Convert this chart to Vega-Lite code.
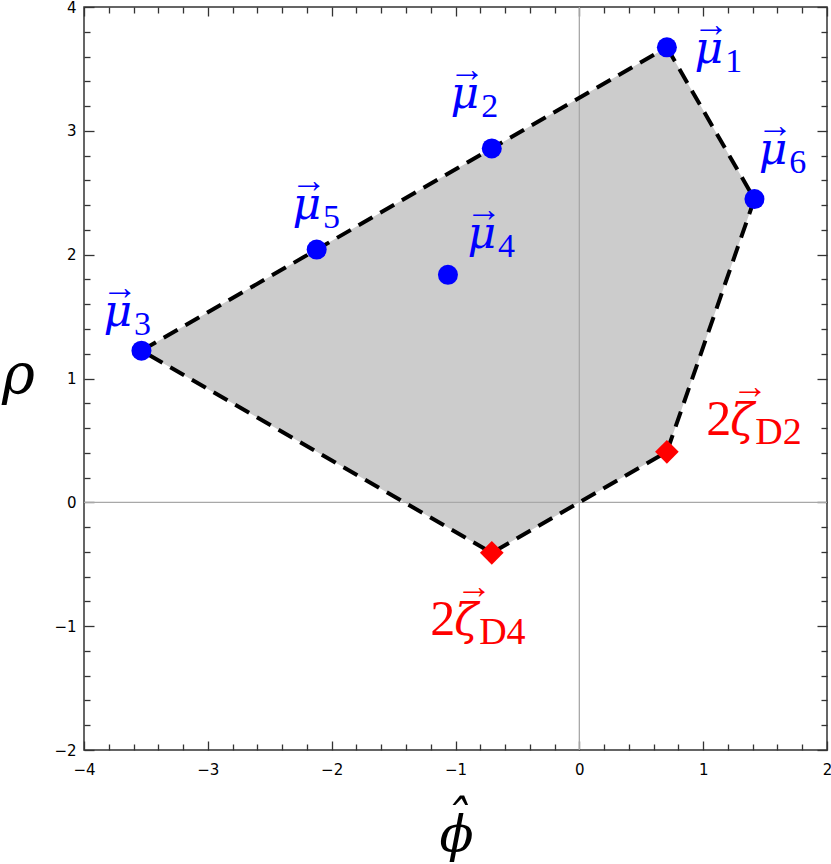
{
  "$schema": "https://vega.github.io/schema/vega-lite/v6.json",
  "width": 743,
  "height": 743,
  "autosize": {"type": "none"},
  "padding": {"left": 84, "top": 7, "right": 4, "bottom": 114},
  "background": "white",
  "config": {
    "view": {"stroke": "#333333", "strokeWidth": 1.5},
    "axis": {
      "grid": false, "domain": false, "tickColor": "#333333", "tickWidth": 1.3,
      "labelFont": "DejaVu Sans", "labelFontSize": 15, "labelColor": "#000000",
      "labelFlush": false, "labelOverlap": false, "labelBound": false
    }
  },
  "datasets": {
    "hull": [
      {"order": 1, "x": 0.707, "y": 3.674},
      {"order": 2, "x": 1.414, "y": 2.449},
      {"order": 3, "x": 0.707, "y": 0.408},
      {"order": 4, "x": -0.707, "y": -0.408},
      {"order": 5, "x": -3.536, "y": 1.225},
      {"order": 6, "x": -2.121, "y": 2.041},
      {"order": 7, "x": -0.707, "y": 2.858},
      {"order": 8, "x": 0.707, "y": 3.674}
    ],
    "points": [
      {"name": "mu1", "kind": "mu", "x": 0.707, "y": 3.674},
      {"name": "mu2", "kind": "mu", "x": -0.707, "y": 2.858},
      {"name": "mu3", "kind": "mu", "x": -3.536, "y": 1.225},
      {"name": "mu4", "kind": "mu", "x": -1.061, "y": 1.837},
      {"name": "mu5", "kind": "mu", "x": -2.121, "y": 2.041},
      {"name": "mu6", "kind": "mu", "x": 1.414, "y": 2.449},
      {"name": "zD2", "kind": "zeta", "x": 0.707, "y": 0.408},
      {"name": "zD4", "kind": "zeta", "x": -0.707, "y": -0.408}
    ],
    "labels": [
      {"kind": "mu", "pre": "", "main": "μ", "sub": "1", "x": 1.162, "y": 3.548},
      {"kind": "mu", "pre": "", "main": "μ", "sub": "2", "x": -0.809, "y": 3.184},
      {"kind": "mu", "pre": "", "main": "μ", "sub": "3", "x": -3.612, "y": 1.423},
      {"kind": "mu", "pre": "", "main": "μ", "sub": "4", "x": -0.672, "y": 2.053},
      {"kind": "mu", "pre": "", "main": "μ", "sub": "5", "x": -2.086, "y": 2.288},
      {"kind": "mu", "pre": "", "main": "μ", "sub": "6", "x": 1.679, "y": 2.732},
      {"kind": "zeta", "pre": "2", "main": "ζ", "sub": "D2", "x": 1.412, "y": 0.543},
      {"kind": "zeta", "pre": "2", "main": "ζ", "sub": "D4", "x": -0.817, "y": -1.073}
    ],
    "origin": [{"v": 0}]
  },
  "layer": [
    {
      "data": {"name": "hull"},
      "mark": {"type": "line", "fill": "#cccccc", "stroke": "#cccccc", "strokeWidth": 0, "strokeOpacity": 0},
      "encoding": {
        "x": {"field": "x", "type": "quantitative", "scale": {"domain": [-4, 2], "nice": false, "zero": false},
          "axis": {"orient": "bottom", "values": [-4, -3, -2, -1, 0, 1, 2], "ticks": false, "labelPadding": 12,
            "title": ["ˆ", "ϕ"], "titleFont": "DejaVu Serif", "titleFontStyle": "italic", "titleFontWeight": "normal",
            "titleFontSize": 50, "titleLineHeight": 15, "titleColor": "#000000", "titleX": 372, "titleY": 85, "titleAlign": "center", "titleBaseline": "alphabetic"}},
        "y": {"field": "y", "type": "quantitative", "scale": {"domain": [-2, 4], "nice": false, "zero": false},
          "axis": {"orient": "left", "values": [-2, -1, 0, 1, 2, 3, 4], "ticks": false, "labelPadding": 8,
            "title": "ρ", "titleFont": "DejaVu Serif", "titleFontStyle": "italic", "titleFontWeight": "normal",
            "titleFontSize": 56, "titleColor": "#000000", "titleAngle": 0, "titleX": -66, "titleY": 385, "titleAlign": "center", "titleBaseline": "alphabetic"}},
        "order": {"field": "order", "type": "quantitative"}
      }
    },
    {
      "data": {"name": "origin"},
      "mark": {"type": "rule", "color": "#a8a8a8", "strokeWidth": 1.3},
      "encoding": {
        "x": {"field": "v", "type": "quantitative", "scale": {"domain": [-4, 2], "nice": false, "zero": false}, "axis": null}
      }
    },
    {
      "data": {"name": "origin"},
      "mark": {"type": "rule", "color": "#a8a8a8", "strokeWidth": 1.3},
      "encoding": {
        "y": {"field": "v", "type": "quantitative", "scale": {"domain": [-2, 4], "nice": false, "zero": false}, "axis": null}
      }
    },
    {
      "data": {"name": "hull"},
      "mark": {"type": "line", "color": "#000000", "strokeWidth": 4, "strokeDash": [16, 9], "strokeCap": "butt"},
      "encoding": {
        "x": {"field": "x", "type": "quantitative", "scale": {"domain": [-4, 2], "nice": false, "zero": false},
          "axis": {"orient": "bottom", "values": [-4, -3, -2, -1, 0, 1, 2], "labels": false, "tickSize": -9, "title": null}},
        "y": {"field": "y", "type": "quantitative", "scale": {"domain": [-2, 4], "nice": false, "zero": false},
          "axis": {"orient": "left", "values": [-2, -1, 0, 1, 2, 3, 4], "labels": false, "tickSize": -10, "title": null}},
        "order": {"field": "order", "type": "quantitative"}
      }
    },
    {
      "data": {"name": "points"},
      "transform": [{"filter": "datum.kind == 'mu'"}],
      "mark": {"type": "circle", "color": "#0000ff", "size": 400, "opacity": 1},
      "encoding": {
        "x": {"field": "x", "type": "quantitative", "scale": {"domain": [-4, 2], "nice": false, "zero": false},
          "axis": {"orient": "bottom", "values": [-3.8, -3.6, -3.4, -3.2, -2.8, -2.6, -2.4, -2.2, -1.8, -1.6, -1.4, -1.2, -0.8, -0.6, -0.4, -0.2, 0.2, 0.4, 0.6, 0.8, 1.2, 1.4, 1.6, 1.8], "labels": false, "tickSize": -6, "title": null}},
        "y": {"field": "y", "type": "quantitative", "scale": {"domain": [-2, 4], "nice": false, "zero": false},
          "axis": {"orient": "left", "values": [-1.8, -1.6, -1.4, -1.2, -0.8, -0.6, -0.4, -0.2, 0.2, 0.4, 0.6, 0.8, 1.2, 1.4, 1.6, 1.8, 2.2, 2.4, 2.6, 2.8, 3.2, 3.4, 3.6, 3.8], "labels": false, "tickSize": -6, "title": null}}
      }
    },
    {
      "data": {"name": "points"},
      "transform": [{"filter": "datum.kind == 'zeta'"}],
      "mark": {"type": "point", "shape": "diamond", "filled": true, "color": "#ff0000", "size": 560, "opacity": 1},
      "encoding": {
        "x": {"field": "x", "type": "quantitative", "scale": {"domain": [-4, 2], "nice": false, "zero": false},
          "axis": {"orient": "top", "values": [-4, -3, -2, -1, 0, 1, 2], "labels": false, "tickSize": -9, "title": null}},
        "y": {"field": "y", "type": "quantitative", "scale": {"domain": [-2, 4], "nice": false, "zero": false},
          "axis": {"orient": "right", "values": [-2, -1, 0, 1, 2, 3, 4], "labels": false, "tickSize": -10, "title": null}}
      }
    },
    {
      "data": {"name": "labels"},
      "mark": {"type": "text", "font": "DejaVu Serif", "fontStyle": "italic", "fontSize": 44, "align": "right", "baseline": "alphabetic"},
      "encoding": {
        "x": {"field": "x", "type": "quantitative", "scale": {"domain": [-4, 2], "nice": false, "zero": false},
          "axis": {"orient": "top", "values": [-3.8, -3.6, -3.4, -3.2, -2.8, -2.6, -2.4, -2.2, -1.8, -1.6, -1.4, -1.2, -0.8, -0.6, -0.4, -0.2, 0.2, 0.4, 0.6, 0.8, 1.2, 1.4, 1.6, 1.8], "labels": false, "tickSize": -6, "title": null}},
        "y": {"field": "y", "type": "quantitative", "scale": {"domain": [-2, 4], "nice": false, "zero": false},
          "axis": {"orient": "right", "values": [-1.8, -1.6, -1.4, -1.2, -0.8, -0.6, -0.4, -0.2, 0.2, 0.4, 0.6, 0.8, 1.2, 1.4, 1.6, 1.8, 2.2, 2.4, 2.6, 2.8, 3.2, 3.4, 3.6, 3.8], "labels": false, "tickSize": -6, "title": null}},
        "text": {"field": "main"},
        "color": {"field": "kind", "type": "nominal", "scale": {"domain": ["mu", "zeta"], "range": ["#0000ff", "#ff0000"]}, "legend": null}
      }
    },
    {
      "data": {"name": "labels"},
      "transform": [{"filter": "datum.kind == 'zeta'"}],
      "mark": {"type": "text", "font": "Liberation Serif", "fontSize": 50, "align": "right", "baseline": "alphabetic", "dx": -23},
      "encoding": {
        "x": {"field": "x", "type": "quantitative", "scale": {"domain": [-4, 2], "nice": false, "zero": false}, "axis": null},
        "y": {"field": "y", "type": "quantitative", "scale": {"domain": [-2, 4], "nice": false, "zero": false}, "axis": null},
        "text": {"field": "pre"},
        "color": {"field": "kind", "type": "nominal", "scale": {"domain": ["mu", "zeta"], "range": ["#0000ff", "#ff0000"]}, "legend": null}
      }
    },
    {
      "data": {"name": "labels"},
      "transform": [{"filter": "datum.kind == 'mu'"}],
      "mark": {"type": "text", "font": "Liberation Serif", "fontSize": 34, "align": "left", "baseline": "alphabetic", "dx": 2, "dy": 9},
      "encoding": {
        "x": {"field": "x", "type": "quantitative", "scale": {"domain": [-4, 2], "nice": false, "zero": false}, "axis": null},
        "y": {"field": "y", "type": "quantitative", "scale": {"domain": [-2, 4], "nice": false, "zero": false}, "axis": null},
        "text": {"field": "sub"},
        "color": {"field": "kind", "type": "nominal", "scale": {"domain": ["mu", "zeta"], "range": ["#0000ff", "#ff0000"]}, "legend": null}
      }
    },
    {
      "data": {"name": "labels"},
      "transform": [{"filter": "datum.kind == 'zeta'"}],
      "mark": {"type": "text", "font": "Liberation Serif", "fontSize": 38, "align": "left", "baseline": "alphabetic", "dx": 1, "dy": 9},
      "encoding": {
        "x": {"field": "x", "type": "quantitative", "scale": {"domain": [-4, 2], "nice": false, "zero": false}, "axis": null},
        "y": {"field": "y", "type": "quantitative", "scale": {"domain": [-2, 4], "nice": false, "zero": false}, "axis": null},
        "text": {"field": "sub"},
        "color": {"field": "kind", "type": "nominal", "scale": {"domain": ["mu", "zeta"], "range": ["#0000ff", "#ff0000"]}, "legend": null}
      }
    },
    {
      "data": {"name": "labels"},
      "transform": [{"filter": "datum.kind == 'mu'"}],
      "mark": {"type": "text", "text": "→", "font": "Liberation Serif", "fontSize": 36, "align": "center", "baseline": "alphabetic", "dx": -12, "dy": -27},
      "encoding": {
        "x": {"field": "x", "type": "quantitative", "scale": {"domain": [-4, 2], "nice": false, "zero": false}, "axis": null},
        "y": {"field": "y", "type": "quantitative", "scale": {"domain": [-2, 4], "nice": false, "zero": false}, "axis": null},
        "color": {"field": "kind", "type": "nominal", "scale": {"domain": ["mu", "zeta"], "range": ["#0000ff", "#ff0000"]}, "legend": null}
      }
    },
    {
      "data": {"name": "labels"},
      "transform": [{"filter": "datum.kind == 'zeta'"}],
      "mark": {"type": "text", "text": "→", "font": "Liberation Serif", "fontSize": 36, "align": "center", "baseline": "alphabetic", "dx": -4, "dy": -37},
      "encoding": {
        "x": {"field": "x", "type": "quantitative", "scale": {"domain": [-4, 2], "nice": false, "zero": false}, "axis": null},
        "y": {"field": "y", "type": "quantitative", "scale": {"domain": [-2, 4], "nice": false, "zero": false}, "axis": null},
        "color": {"field": "kind", "type": "nominal", "scale": {"domain": ["mu", "zeta"], "range": ["#0000ff", "#ff0000"]}, "legend": null}
      }
    }
  ],
  "resolve": {"axis": {"x": "independent", "y": "independent"}}
}
